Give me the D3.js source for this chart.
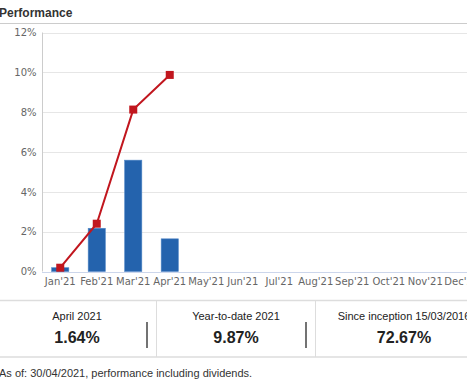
<!DOCTYPE html>
<html>
<meta charset="utf-8">
<title>Performance</title>
<style>
	body { margin: 0; background: #fff; }
	svg { display: block; }
	.tick text { font-family: "DejaVu Sans", sans-serif; font-size: 10px; fill: #666; }
</style>
<body>
<div id="chart"></div>
<script src="https://cdn.jsdelivr.net/npm/d3@7"></script>
<script>

	// Data
	var months = ["Jan'21", "Feb'21", "Mar'21", "Apr'21", "May'21", "Jun'21",
		"Jul'21", "Aug'21", "Sep'21", "Oct'21", "Nov'21", "Dec'21"];
	var monthly = [0.19, 2.17, 5.59, 1.64];       // monthly return, %
	var cumulative = [0.19, 2.40, 8.13, 9.87];    // year-to-date, %
	var yTicks = [0, 2, 4, 6, 8, 10, 12];
	var statLabels = ["April 2021", "Year-to-date 2021", "Since inception 15/03/2016"];
	var statValues = ["1.64%", "9.87%", "72.67%"];
	var footnote = "As of: 30/04/2021, performance including dividends.";

	var W = 467, H = 382;

	var svg = d3.select("#chart").append("svg")
		.attr("width", W)
		.attr("height", H);

	// Title and rule under it
	svg.append("text")
		.attr("x", -1)
		.attr("y", 17)
		.style("font", "bold 12px 'Liberation Sans', Arial, sans-serif")
		.style("fill", "#333")
		.text("Performance");

	svg.append("line")
		.attr("x1", 0).attr("x2", W)
		.attr("y1", 23.5).attr("y2", 23.5)
		.attr("stroke", "#ccc");

	// Scales
	var x = d3.scaleBand().domain(months).range([42, 480]).paddingInner(0.53).paddingOuter(0.265);
	var y = d3.scaleLinear().domain([0, 12]).range([271.5, 32.5]);

	// Grid lines
	svg.append("g")
		.selectAll("line")
		.data(yTicks.filter(function (d) { return d > 0; }))
		.enter().append("line")
		.attr("x1", 42).attr("x2", W)
		.attr("y1", function (d) { return Math.round(y(d)) + 0.5; })
		.attr("y2", function (d) { return Math.round(y(d)) + 0.5; })
		.attr("stroke", "#e6e6e6");

	// Y axis
	var yAxis = svg.append("g")
		.attr("transform", "translate(42.5,0)")
		.call(d3.axisLeft(y).tickValues(yTicks).tickSize(0).tickPadding(6)
			.tickFormat(function (d) { return d + "%"; }));
	yAxis.select(".domain").attr("stroke", "#ccc").attr("d", "M0," + y(12) + "V" + y(0));

	// Bars
	svg.append("g")
		.selectAll("rect")
		.data(monthly)
		.enter().append("rect")
		.attr("x", function (d, i) { return x(months[i]); })
		.attr("y", function (d) { return y(d); })
		.attr("width", x.bandwidth())
		.attr("height", function (d) { return y(0) - y(d); })
		.attr("fill", "#2463ad")
		.attr("stroke", "#4f86c6")
		.attr("stroke-width", 0.6);

	// X axis
	var xAxis = svg.append("g")
		.attr("transform", "translate(0," + (Math.round(y(0)) + 0.5) + ")")
		.call(d3.axisBottom(x).tickSize(0).tickPadding(5));
	xAxis.select(".domain").attr("stroke", "#ccd6eb").attr("d", "M42,0H" + W);

	// Cumulative line
	var cx = function (i) { return x(months[i]) + x.bandwidth() / 2; };
	svg.append("path")
		.datum(cumulative)
		.attr("fill", "none")
		.attr("stroke", "#c1161e")
		.attr("stroke-width", 2)
		.attr("d", d3.line()
			.x(function (d, i) { return cx(i); })
			.y(function (d) { return y(d); }));

	svg.append("g")
		.selectAll("rect")
		.data(cumulative)
		.enter().append("rect")
		.attr("x", function (d, i) { return cx(i) - 4; })
		.attr("y", function (d) { return y(d) - 4; })
		.attr("width", 8)
		.attr("height", 8)
		.attr("fill", "#c1161e");

	// Stats panel
	var colCenters = [77, 236, 404];
	svg.append("line").attr("x1", 0).attr("x2", W).attr("y1", 300.5).attr("y2", 300.5).attr("stroke", "#ddd").attr("stroke-width", 1.5);
	svg.append("line").attr("x1", 0).attr("x2", W).attr("y1", 357).attr("y2", 357).attr("stroke", "#ddd").attr("stroke-width", 1.5);
	[156.5, 315.5].forEach(function (xx) {
		svg.append("line").attr("x1", xx).attr("x2", xx).attr("y1", 300).attr("y2", 357).attr("stroke", "#ddd");
	});
	[147, 306].forEach(function (xx) {
		svg.append("line").attr("x1", xx).attr("x2", xx).attr("y1", 322).attr("y2", 348).attr("stroke", "#444").attr("stroke-width", 1.5);
	});

	svg.append("g")
		.selectAll("text")
		.data(statLabels)
		.enter().append("text")
		.attr("x", function (d, i) { return colCenters[i]; })
		.attr("y", 320)
		.attr("text-anchor", "middle")
		.style("font", "11px 'Liberation Sans', Arial, sans-serif")
		.style("fill", "#222")
		.text(function (d) { return d; });

	svg.append("g")
		.selectAll("text")
		.data(statValues)
		.enter().append("text")
		.attr("x", function (d, i) { return colCenters[i]; })
		.attr("y", 343)
		.attr("text-anchor", "middle")
		.style("font", "bold 16px 'Liberation Sans', Arial, sans-serif")
		.style("fill", "#222")
		.text(function (d) { return d; });

	// Footnote
	svg.append("text")
		.attr("x", -1)
		.attr("y", 377)
		.style("font", "11px 'Liberation Sans', Arial, sans-serif")
		.style("fill", "#333")
		.text(footnote);

</script>
</body>
</html>
